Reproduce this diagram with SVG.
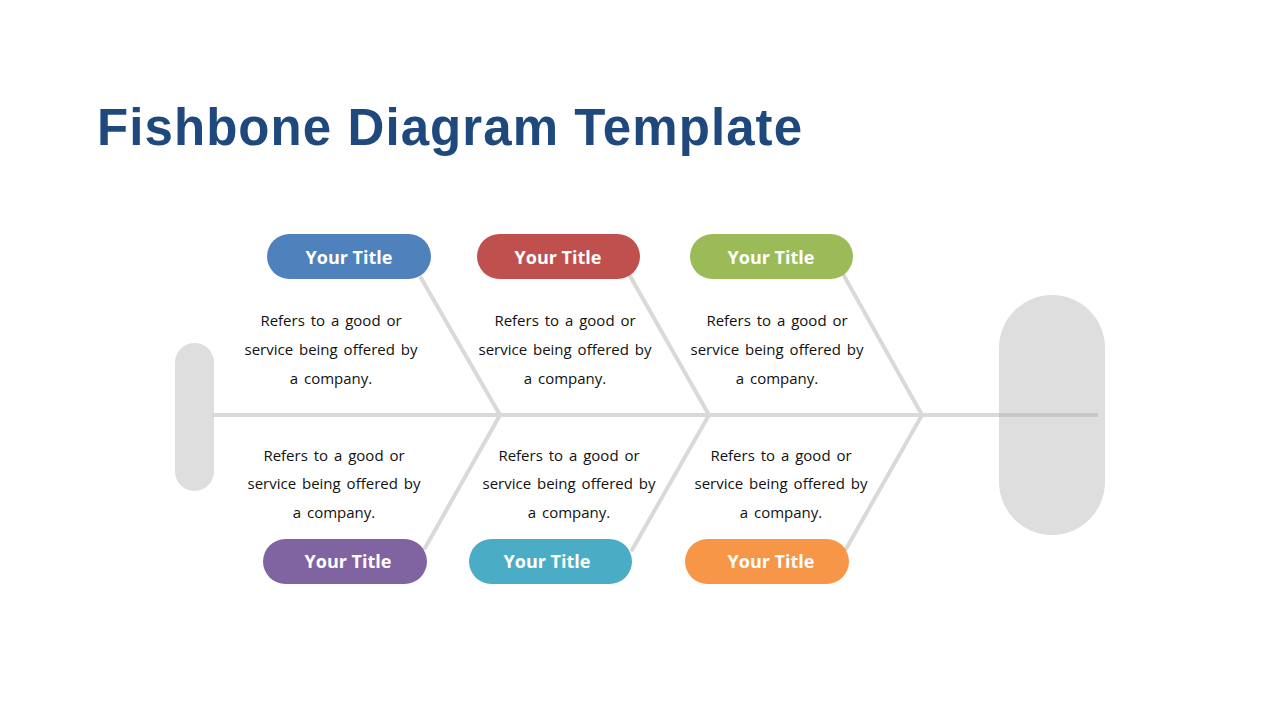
<svg xmlns="http://www.w3.org/2000/svg" width="1280" height="720" viewBox="0 0 1280 720">
<style>
.bone{stroke:#d9d9d9;stroke-width:4;fill:none;stroke-linecap:round}
.pt{font-family:"Open Sans","Noto Sans",sans-serif;font-weight:bold;font-size:18px;fill:#fff;text-anchor:middle}
.body{font-family:"Open Sans","Noto Sans",sans-serif;font-size:15px;fill:#111;text-anchor:middle;word-spacing:2px}
.title{font-family:"Liberation Sans",Arial,sans-serif;font-weight:bold;font-size:51px;fill:#1f497d}
</style>
<rect width="1280" height="720" fill="#fff"/>
<text class="title" x="97" y="145" textLength="705" lengthAdjust="spacing">Fishbone Diagram Template</text>
<g id="tail"><rect x="175" y="343" width="39" height="148" rx="19.5" fill="#dedede"/></g>
<g id="head"><rect x="999" y="295" width="106" height="240" rx="53" fill="#dedede"/></g>
<g id="connectors">
<line class="bone" x1="213" y1="415" x2="1000" y2="415"/>
<line x1="999" y1="415" x2="1098" y2="415" stroke="#c8c8c8" stroke-width="4"/>
<polyline class="bone" points="421,278 500,415 425,548"/>
<polyline class="bone" points="630,276 709,415 632,550"/>
<polyline class="bone" points="843,274 922,415 846,549"/>
</g>
<g id="node1"><rect x="267" y="234" width="164" height="45" rx="22.5" fill="#4f81bd"/><text class="pt" x="349" y="264">Your Title</text></g>
<g id="node2"><rect x="477" y="234" width="163" height="45" rx="22.5" fill="#c0504d"/><text class="pt" x="558" y="264">Your Title</text></g>
<g id="node3"><rect x="690" y="234" width="163" height="45" rx="22.5" fill="#9bbb59"/><text class="pt" x="771" y="264">Your Title</text></g>
<g id="node4"><rect x="263" y="539" width="164" height="45" rx="22.5" fill="#8064a2"/><text class="pt" x="348" y="568">Your Title</text></g>
<g id="node5"><rect x="469" y="539" width="163" height="45" rx="22.5" fill="#4bacc6"/><text class="pt" x="547" y="568">Your Title</text></g>
<g id="node6"><rect x="685" y="539" width="164" height="45" rx="22.5" fill="#f79646"/><text class="pt" x="771" y="568">Your Title</text></g>
<g id="text1"><text class="body" x="331" y="326">Refers to a good or</text><text class="body" x="331" y="355">service being offered by</text><text class="body" x="331" y="384">a company.</text></g>
<g id="text2"><text class="body" x="565" y="326">Refers to a good or</text><text class="body" x="565" y="355">service being offered by</text><text class="body" x="565" y="384">a company.</text></g>
<g id="text3"><text class="body" x="777" y="326">Refers to a good or</text><text class="body" x="777" y="355">service being offered by</text><text class="body" x="777" y="384">a company.</text></g>
<g id="text4"><text class="body" x="334" y="461">Refers to a good or</text><text class="body" x="334" y="489">service being offered by</text><text class="body" x="334" y="518">a company.</text></g>
<g id="text5"><text class="body" x="569" y="461">Refers to a good or</text><text class="body" x="569" y="489">service being offered by</text><text class="body" x="569" y="518">a company.</text></g>
<g id="text6"><text class="body" x="781" y="461">Refers to a good or</text><text class="body" x="781" y="489">service being offered by</text><text class="body" x="781" y="518">a company.</text></g>
</svg>
